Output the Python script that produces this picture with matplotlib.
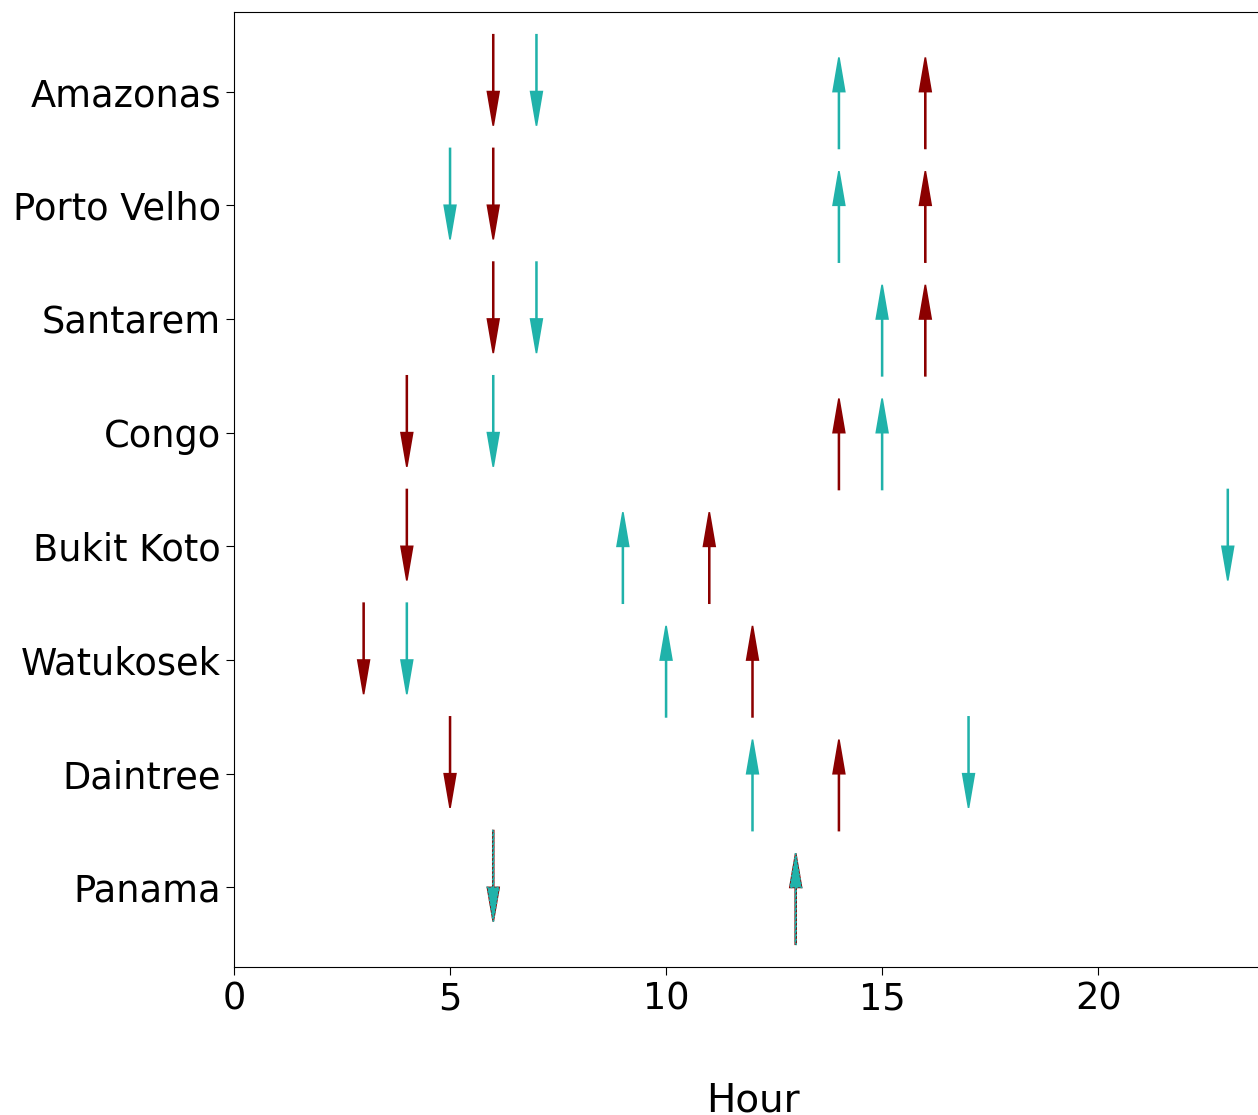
import matplotlib.pyplot as plt

# sites, top to bottom
sites = ['Amazonas', 'Porto Velho', 'Santarem', 'Congo',
         'Bukit Koto', 'Watukosek', 'Daintree', 'Panama']

# hours for the two series (down arrow = start, up arrow = end)
red_down = [6, 6, 6, 4, 4, 3, 5, 6]
red_up = [16, 16, 16, 14, 11, 12, 14, 13]
teal_down = [7, 5, 7, 6, 23, 4, 17, 6]
teal_up = [14, 14, 15, 15, 9, 10, 12, 13]

red = '#8b0000'
teal = '#20b2aa'

fig = plt.figure(figsize=(12.58, 11.15), dpi=100)
ax = fig.add_axes([234 / 1258, 1 - 967 / 1115, 1037 / 1258, (967 - 12) / 1115])

arrow_kw = dict(head_width=0.27, head_length=0.3, width=0.02, linewidth=1.2)

for i, site in enumerate(sites):
    same = red_down[i] == teal_down[i] and red_up[i] == teal_up[i]
    # red series
    ax.arrow(red_down[i], i - 0.5, 0, 0.5, fc=red, ec=red, **arrow_kw)
    ax.arrow(red_up[i], i + 0.5, 0, -0.5, fc=red, ec=red, **arrow_kw)
    # teal series, dotted edge when it sits exactly on top of the red one
    ls = ':' if same else '-'
    ax.arrow(teal_down[i], i - 0.5, 0, 0.5, fc=teal, ec=teal, linestyle=ls, **arrow_kw)
    ax.arrow(teal_up[i], i + 0.5, 0, -0.5, fc=teal, ec=teal, linestyle=ls, **arrow_kw)

ax.set_yticks(range(len(sites)))
ax.set_yticklabels(sites)
ax.set_ylim(len(sites) - 1 + 0.7, -0.7)
ax.set_xlim(0, 24)
ax.set_xticks([0, 5, 10, 15, 20])
ax.tick_params(labelsize=26.5, length=6)
ax.set_xlabel('Hour', fontsize=28, labelpad=46)

fig.savefig('out.png', dpi=100)
